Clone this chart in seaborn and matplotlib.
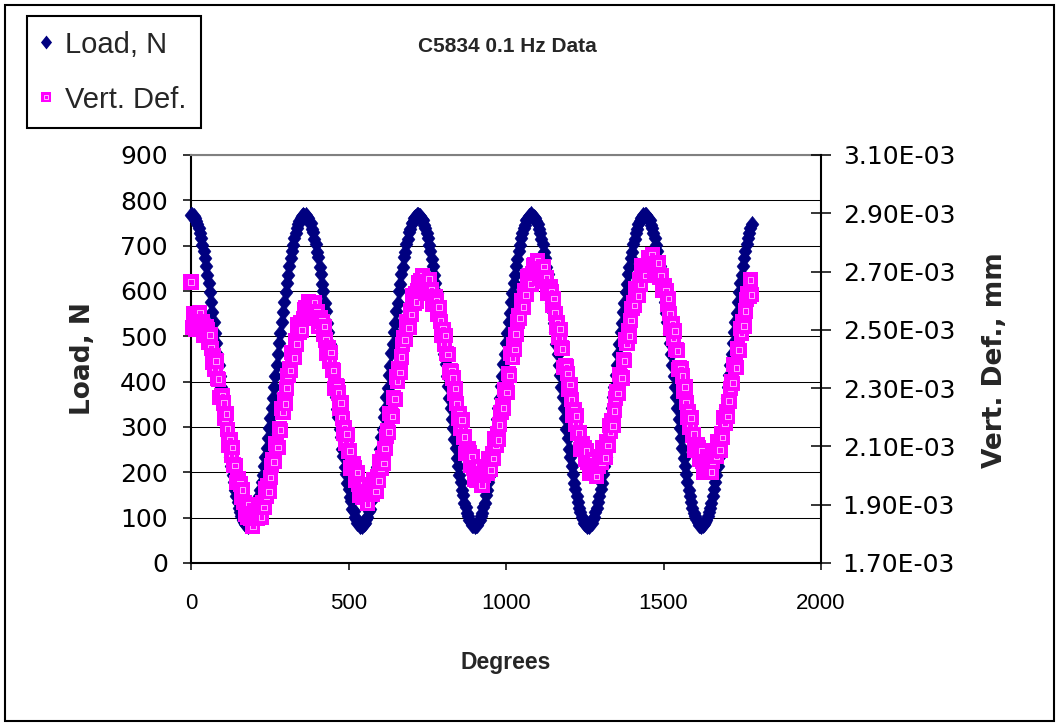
import numpy as np
import pandas as pd
import matplotlib
matplotlib.use("Agg")
import matplotlib.pyplot as plt
from matplotlib.lines import Line2D
from matplotlib.patches import Rectangle
import seaborn as sns

# ---------------- data ----------------
title = "C5834 0.1 Hz Data"
x_label = "Degrees"
load_label = "Load, N"
def_label = "Vert. Def., mm"
series_names = ["Load, N", "Vert. Def."]

degrees = np.arange(0, 1781, 4)  # sample grid (deg)

load_n = [
    768, 767, 765, 760, 755, 747, 738, 728, 716, 702,
    688, 672, 655, 636, 617, 597, 575, 553, 531, 508,
    485, 461, 437, 413, 389, 365, 342, 319, 297, 275,
    253, 233, 214, 195, 178, 162, 148, 134, 122, 112,
    103, 95, 90, 85, 83, 82, 83, 85, 90, 95,
    103, 112, 122, 134, 148, 162, 178, 195, 214, 233,
    253, 275, 297, 319, 342, 365, 389, 413, 437, 461,
    485, 508, 531, 553, 575, 597, 617, 636, 655, 672,
    688, 702, 716, 728, 738, 747, 755, 760, 765, 767,
    766, 768, 763, 761, 753, 749, 736, 730, 714, 704,
    686, 674, 653, 638, 615, 599, 573, 555, 529, 510,
    483, 463, 435, 415, 387, 367, 340, 321, 295, 277,
    251, 235, 212, 197, 176, 164, 146, 136, 120, 114,
    101, 97, 88, 87, 81, 84, 81, 87, 88, 97,
    101, 114, 120, 136, 146, 164, 176, 197, 212, 235,
    251, 277, 295, 321, 340, 367, 387, 415, 435, 463,
    483, 510, 529, 555, 573, 599, 615, 638, 653, 674,
    686, 704, 714, 730, 736, 749, 753, 762, 763, 768,
    767, 766, 766, 759, 756, 746, 739, 727, 717, 701,
    689, 671, 656, 635, 618, 596, 576, 552, 532, 507,
    486, 460, 438, 412, 390, 364, 343, 318, 298, 274,
    254, 232, 215, 194, 179, 161, 149, 133, 123, 111,
    104, 94, 91, 84, 84, 81, 84, 84, 91, 94,
    104, 111, 123, 133, 149, 161, 179, 194, 215, 232,
    254, 274, 298, 318, 343, 364, 390, 412, 438, 460,
    486, 507, 532, 552, 576, 596, 618, 635, 656, 671,
    689, 701, 717, 727, 739, 746, 756, 759, 766, 766,
    769, 766, 764, 761, 754, 748, 737, 729, 715, 703,
    687, 673, 654, 637, 616, 598, 574, 554, 530, 509,
    484, 462, 436, 414, 388, 366, 341, 320, 296, 276,
    252, 234, 213, 196, 177, 163, 147, 135, 121, 113,
    102, 96, 89, 86, 82, 83, 82, 86, 89, 96,
    102, 113, 121, 135, 147, 163, 177, 196, 213, 234,
    252, 276, 296, 320, 341, 366, 388, 414, 436, 462,
    484, 509, 530, 554, 574, 598, 616, 637, 654, 673,
    687, 703, 715, 729, 737, 748, 754, 761, 764, 767,
    767, 768, 764, 760, 756, 746, 738, 729, 716, 701,
    688, 671, 655, 637, 617, 596, 575, 552, 531, 507,
    485, 462, 437, 412, 389, 366, 342, 318, 297, 276,
    253, 232, 214, 196, 178, 161, 148, 135, 122, 111,
    103, 96, 90, 84, 83, 81, 83, 86, 90, 94,
    103, 113, 122, 133, 148, 163, 178, 194, 214, 234,
    253, 274, 297, 320, 342, 364, 389, 414, 437, 460,
    485, 509, 531, 551, 575, 598, 617, 635, 655, 673,
    688, 703, 716, 727, 738, 747,
]

# vertical deformation, in units of 1e-3 mm
vert_def_e3 = [
    2.664, 2.509, 2.555, 2.529, 2.501, 2.542, 2.511, 2.559, 2.515, 2.529,
    2.482, 2.503, 2.512, 2.501, 2.457, 2.483, 2.437, 2.390, 2.412, 2.363,
    2.393, 2.332, 2.331, 2.268, 2.276, 2.273, 2.249, 2.196, 2.212, 2.159,
    2.105, 2.122, 2.070, 2.097, 2.036, 2.035, 1.975, 1.986, 1.988, 1.971,
    1.925, 1.951, 1.907, 1.866, 1.895, 1.856, 1.899, 1.853, 1.869, 1.827,
    1.856, 1.877, 1.880, 1.854, 1.900, 1.878, 1.857, 1.908, 1.890, 1.954,
    1.930, 1.966, 1.944, 1.993, 2.034, 2.055, 2.047, 2.110, 2.103, 2.097,
    2.162, 2.156, 2.231, 2.216, 2.261, 2.246, 2.300, 2.344, 2.367, 2.360,
    2.422, 2.413, 2.404, 2.463, 2.451, 2.517, 2.493, 2.526, 2.499, 2.540,
    2.569, 2.577, 2.553, 2.597, 2.570, 2.541, 2.580, 2.548, 2.594, 2.549,
    2.562, 2.513, 2.534, 2.543, 2.530, 2.486, 2.512, 2.465, 2.418, 2.440,
    2.392, 2.422, 2.362, 2.361, 2.299, 2.307, 2.305, 2.283, 2.231, 2.249,
    2.197, 2.145, 2.163, 2.112, 2.142, 2.083, 2.084, 2.026, 2.039, 2.042,
    2.028, 1.984, 2.011, 1.970, 1.931, 1.962, 1.925, 1.970, 1.926, 1.944,
    1.903, 1.934, 1.957, 1.961, 1.937, 1.985, 1.964, 1.945, 1.998, 1.982,
    2.048, 2.025, 2.063, 2.042, 2.093, 2.134, 2.156, 2.149, 2.213, 2.207,
    2.202, 2.267, 2.262, 2.338, 2.323, 2.368, 2.353, 2.407, 2.451, 2.474,
    2.466, 2.527, 2.518, 2.507, 2.565, 2.552, 2.618, 2.592, 2.625, 2.596,
    2.635, 2.663, 2.669, 2.644, 2.686, 2.657, 2.626, 2.664, 2.630, 2.674,
    2.627, 2.638, 2.588, 2.607, 2.614, 2.600, 2.554, 2.578, 2.530, 2.481,
    2.502, 2.451, 2.480, 2.419, 2.416, 2.354, 2.361, 2.358, 2.335, 2.282,
    2.299, 2.247, 2.195, 2.213, 2.162, 2.191, 2.132, 2.133, 2.075, 2.089,
    2.093, 2.079, 2.036, 2.065, 2.025, 1.986, 2.019, 1.983, 2.030, 1.987,
    2.006, 1.967, 2.000, 2.024, 2.030, 2.008, 2.057, 2.038, 2.020, 2.074,
    2.059, 2.126, 2.104, 2.143, 2.123, 2.174, 2.216, 2.239, 2.232, 2.296,
    2.290, 2.285, 2.350, 2.344, 2.419, 2.404, 2.448, 2.432, 2.485, 2.528,
    2.550, 2.541, 2.601, 2.590, 2.578, 2.635, 2.620, 2.684, 2.656, 2.687,
    2.657, 2.694, 2.720, 2.725, 2.697, 2.738, 2.707, 2.675, 2.711, 2.675,
    2.717, 2.668, 2.678, 2.626, 2.643, 2.648, 2.632, 2.585, 2.607, 2.557,
    2.507, 2.526, 2.474, 2.502, 2.439, 2.435, 2.372, 2.378, 2.374, 2.350,
    2.297, 2.313, 2.260, 2.208, 2.226, 2.175, 2.205, 2.145, 2.147, 2.090,
    2.104, 2.109, 2.096, 2.054, 2.084, 2.045, 2.007, 2.042, 2.007, 2.055,
    2.014, 2.035, 1.997, 2.032, 2.058, 2.065, 2.045, 2.095, 2.078, 2.061,
    2.117, 2.103, 2.171, 2.150, 2.190, 2.171, 2.222, 2.265, 2.288, 2.282,
    2.346, 2.340, 2.335, 2.399, 2.394, 2.468, 2.452, 2.496, 2.479, 2.532,
    2.573, 2.594, 2.584, 2.643, 2.631, 2.617, 2.673, 2.656, 2.719, 2.690,
    2.719, 2.686, 2.722, 2.747, 2.749, 2.720, 2.759, 2.727, 2.692, 2.727,
    2.689, 2.730, 2.679, 2.687, 2.634, 2.649, 2.652, 2.635, 2.586, 2.607,
    2.556, 2.505, 2.522, 2.470, 2.496, 2.432, 2.428, 2.364, 2.370, 2.366,
    2.342, 2.288, 2.304, 2.251, 2.199, 2.218, 2.167, 2.198, 2.139, 2.142,
    2.085, 2.101, 2.107, 2.095, 2.055, 2.085, 2.048, 2.012, 2.047, 2.015,
    2.064, 2.025, 2.047, 2.012, 2.048, 2.075, 2.085, 2.066, 2.118, 2.102,
    2.087, 2.143, 2.131, 2.200, 2.180, 2.221, 2.203, 2.255, 2.299, 2.322,
    2.317, 2.381, 2.376, 2.370, 2.435, 2.430, 2.504, 2.487, 2.530, 2.513,
    2.565, 2.605, 2.625, 2.614, 2.672, 2.620,
]

x_ticks = [0, 500, 1000, 1500, 2000]
load_ticks = [0, 100, 200, 300, 400, 500, 600, 700, 800, 900]
def_ticks = [1.70e-3, 1.90e-3, 2.10e-3, 2.30e-3, 2.50e-3, 2.70e-3, 2.90e-3, 3.10e-3]

assert len(load_n) == len(degrees) == len(vert_def_e3)
vert_def = np.array(vert_def_e3) * 1e-3

# ---------------- style ----------------
NAVY = "#000080"
MAGENTA = "#FF00FF"
W, H = 1060, 727
DIAMOND = [(0, 1), (0.8, 0), (0, -1), (-0.8, 0), (0, 1)]

sns.set_style("white")
plt.rcParams["font.family"] = ["Liberation Sans", "DejaVu Sans"]

fig = plt.figure(figsize=(W / 100, H / 100), dpi=100)
ax = fig.add_axes([191 / W, 1 - 563 / H, 630 / W, 408 / H])
ax2 = ax.twinx()

# Load series (navy diamonds)
df_load = pd.DataFrame({"Degrees": degrees, "Load": load_n})
sns.scatterplot(data=df_load, x="Degrees", y="Load", marker=DIAMOND, s=135,
                color=NAVY, edgecolor=NAVY, linewidth=0.4, ax=ax,
                clip_on=False, legend=False, zorder=3)

# Vertical deformation (magenta squares with a thin white inner ring)
n = len(degrees)
df_def = pd.DataFrame({"Degrees": np.repeat(degrees, 2),
                       "Def": np.repeat(vert_def, 2)})
sns.scatterplot(data=df_def, x="Degrees", y="Def", marker="s", s=120,
                color=MAGENTA, linewidth=0, ax=ax2, clip_on=False,
                legend=False, zorder=3)
coll = ax2.collections[-1]
coll.set_facecolors(np.tile([[1, 0, 1, 1], [0, 0, 0, 0]], (n, 1)))
coll.set_edgecolors(np.tile([[1, 0, 1, 1], [1, 1, 1, 1]], (n, 1)))
coll.set_sizes(np.tile([120, 16], n))
coll.set_linewidths(np.tile([0.0, 0.45], n))

# axes limits / ticks
ax.set_xlim(0, 2000)
ax.set_ylim(0, 900)
ax2.set_ylim(1.70e-3, 3.10e-3)

ax.set_xticks(x_ticks, labels=[str(v) for v in x_ticks])
ax.set_yticks(load_ticks, labels=[str(v) for v in load_ticks])
ax2.set_yticks(def_ticks, labels=[f"{v:.2E}" for v in def_ticks])

ax.tick_params(axis="x", direction="out", length=5, width=1.1, pad=16.5,
               colors="black", bottom=True, labelsize=16,
               labelfontfamily="Liberation Sans")
ax.tick_params(axis="y", direction="out", length=5.8, width=1.1, pad=10.8,
               colors="black", left=True, labelsize=18,
               labelfontfamily="DejaVu Sans")
ax2.tick_params(axis="y", direction="inout", length=14, width=1.1, pad=8.6,
                colors="black", right=True, labelsize=18,
                labelfontfamily="DejaVu Sans")

ax.yaxis.grid(True, color="black", linewidth=0.75)
ax.xaxis.grid(False)
ax.set_axisbelow(True)

for s in ["left", "bottom"]:
    ax.spines[s].set_color("black")
    ax.spines[s].set_linewidth(1.5)
ax.spines["top"].set_color("#808080")
ax.spines["top"].set_linewidth(1.5)
ax.spines["right"].set_visible(False)
for s in ["left", "bottom", "top"]:
    ax2.spines[s].set_visible(False)
ax2.spines["right"].set_color("black")
ax2.spines["right"].set_linewidth(1.5)

# labels
ax.set_xlabel(x_label, fontsize=16.5, fontweight="bold", va="center")
ax.xaxis.set_label_coords(0.5, -0.245)
ax.set_ylabel(load_label, fontsize=19, fontweight="bold", family="DejaVu Sans",
              va="center", ha="center")
ax.yaxis.set_label_coords(-0.171, 0.502)
ax2.set_ylabel(def_label, fontsize=19, fontweight="bold", family="DejaVu Sans",
               rotation=90, va="center", ha="center")
ax2.yaxis.set_label_coords(1.276, 0.4975)
fig.text(507 / W, 1 - 47 / H, title, fontsize=15, fontweight="bold",
         ha="center", va="center")

# legend
h_load = Line2D([], [], ls="none", marker=DIAMOND, ms=10, color=NAVY, mew=0)
h_def = (Line2D([], [], ls="none", marker="s", ms=6.5, mfc=MAGENTA, mec=MAGENTA, mew=0),
         Line2D([], [], ls="none", marker="s", ms=2.6, mfc="none", mec="white", mew=0.5))
leg = ax2.legend([h_load, h_def], series_names, loc="upper left",
                 bbox_to_anchor=(27 / W, 1 - 16 / H), bbox_transform=fig.transFigure,
                 borderaxespad=0, prop={"family": "Liberation Sans", "size": 21},
                 frameon=True, fancybox=False, shadow=False, framealpha=1,
                 edgecolor="black", borderpad=0.5, labelspacing=0.93,
                 handlelength=0.3, handletextpad=0.5)
leg.get_frame().set_linewidth(1.5)

# outer chart border
fig.add_artist(Rectangle((5 / W, 1 - 721 / H), 1049 / W, 716 / H,
                         transform=fig.transFigure, fill=False,
                         edgecolor="black", linewidth=1.5))

fig.savefig("out.png", dpi=100)
